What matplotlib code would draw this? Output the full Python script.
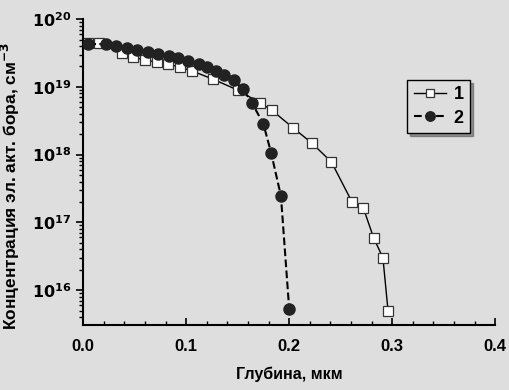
import matplotlib
matplotlib.use("Agg")
import matplotlib.pyplot as plt
from matplotlib.ticker import LogLocator, MultipleLocator, FixedLocator, NullFormatter

plt.rcParams.update({
    "font.family": ["Liberation Sans", "DejaVu Sans"],
    "font.weight": "bold",
    "mathtext.default": "bf",
})

BG = "#dedede"

# curve 1 (open squares, solid line)
depth_1 = [0.005, 0.0155, 0.038, 0.0485, 0.060, 0.072, 0.082, 0.094, 0.106, 0.126,
           0.150, 0.172, 0.183, 0.204, 0.222, 0.241, 0.261, 0.272, 0.282, 0.291, 0.296]
conc_1 = [4.4e19, 4.4e19, 3.15e19, 2.76e19, 2.48e19, 2.32e19, 2.17e19, 1.96e19, 1.71e19, 1.30e19,
          8.97e18, 5.77e18, 4.55e18, 2.47e18, 1.48e18, 7.8e17, 2.0e17, 1.63e17, 5.9e16, 3.0e16, 4.9e15]

# curve 2 (filled circles, dashed line)
depth_2 = [0.005, 0.022, 0.032, 0.043, 0.052, 0.063, 0.073, 0.083, 0.092, 0.102,
           0.112, 0.120, 0.129, 0.137, 0.146, 0.155, 0.164, 0.175, 0.1825, 0.192, 0.200]
conc_2 = [4.28e19, 4.28e19, 4.0e19, 3.73e19, 3.49e19, 3.26e19, 3.05e19, 2.84e19, 2.66e19, 2.4e19,
          2.17e19, 1.96e19, 1.71e19, 1.49e19, 1.26e19, 9.3e18, 5.77e18, 2.83e18, 1.06e18, 2.45e17, 5.3e15]

y_ticks = [1e16, 1e17, 1e18, 1e19, 1e20]
y_labels = [r"$10^{16}$", r"$10^{17}$", r"$10^{18}$", r"$10^{19}$", r"$10^{20}$"]
x_ticks = [0.0, 0.1, 0.2, 0.3, 0.4]
x_labels = ["0.0", "0.1", "0.2", "0.3", "0.4"]

fig = plt.figure(figsize=(5.1, 3.9), dpi=100, facecolor=BG)
ax = fig.add_axes([0.163, 0.167, 0.808, 0.784], facecolor=BG)

ax.plot(depth_1, conc_1, "-", color="black", lw=1.0, marker="s", ms=7,
        mfc="white", mec="#333333", mew=0.9, label="1", zorder=2)
ax.plot(depth_2, conc_2, "--", color="black", lw=1.5, marker="o", ms=8,
        mfc="#222222", mec="#222222", label="2", zorder=3)

ax.set_yscale("log")
ax.set_xlim(0, 0.4)
ax.set_ylim(3.07e15, 1e20)

ax.yaxis.set_major_locator(FixedLocator(y_ticks))
ax.set_yticklabels(y_labels)
ax.yaxis.set_minor_locator(LogLocator(base=10, subs=range(2, 10)))
ax.yaxis.set_minor_formatter(NullFormatter())
ax.set_xticks(x_ticks)
ax.set_xticklabels(x_labels)
ax.xaxis.set_minor_locator(MultipleLocator(0.02))

for s in ["top", "right"]:
    ax.spines[s].set_visible(False)
for s in ["left", "bottom"]:
    ax.spines[s].set_linewidth(1.5)

ax.tick_params(axis="y", which="major", direction="out", length=5, width=1.2, labelsize=11.5)
ax.tick_params(axis="y", which="minor", direction="out", length=3, width=1)
ax.tick_params(axis="x", which="major", direction="in", length=5, width=1.2, labelsize=12, pad=10)
ax.tick_params(axis="x", which="minor", direction="in", length=3, width=1)

ax.set_xlabel("Глубина, мкм", fontsize=11.5, fontweight="bold", labelpad=9)
ax.set_ylabel("Концентрация эл. акт. бора, см$^{-3}$", fontsize=12.5, fontweight="bold")
ax.yaxis.set_label_coords(-0.148, 0.455)

leg = ax.legend(loc="upper left", bbox_to_anchor=(0.765, 0.83), fontsize=13, frameon=True,
                fancybox=False, shadow=True, edgecolor="black", facecolor=BG,
                handlelength=1.8, borderpad=0.35, labelspacing=0.35, handletextpad=0.4,
                markerscale=0.85)
leg.get_frame().set_linewidth(1.0)

fig.savefig("out.png", dpi=100, facecolor=BG)
